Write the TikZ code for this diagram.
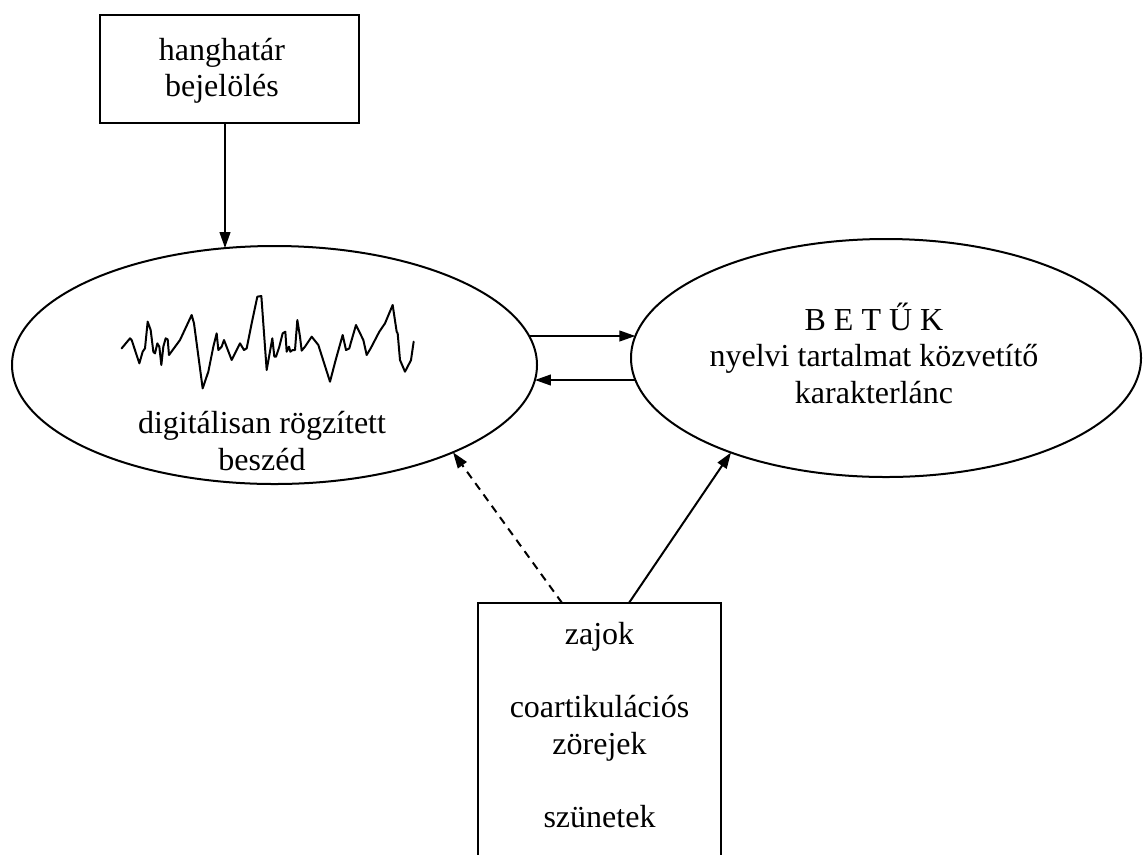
\documentclass[tikz,border=0pt]{standalone}
\usepackage{fontspec}
\setmainfont{Liberation Serif}
\usetikzlibrary{shapes.geometric,arrows.meta,calc}
\newlength\pxu \setlength\pxu{0.75pt}
\begin{document}
\begin{tikzpicture}[x=0.75pt,y=-0.75pt,
  every node/.style={font=\fontsize{24pt}{27.4pt}\selectfont, inner sep=0pt, outer sep=0pt},
  box/.style={draw, line width=1.5pt, rectangle},
  oval/.style={draw, line width=1.5pt, ellipse},
  conn/.style={line width=1.5pt, -{Triangle[length=12pt,width=8pt]}},
  dashline/.style={dash pattern=on 6pt off 4.5pt},
  wave/.style={line width=1.5pt, line join=round, line cap=round}]
\useasboundingbox (0,0) rectangle (1144,854);
\clip (0,0) rectangle (1144,854);
% boxes and ovals
\node[box, minimum width=259\pxu, minimum height=108\pxu] (T) at (229.5,69) {};
\node[align=center] (Ttext) at (222,71) {hanghatár\\bejelölés};
\node[oval, minimum width=525\pxu, minimum height=238\pxu] (L) at (274.5,365) {};
\node[align=center] (Ltext) at (262,441) {digitálisan rögzített\\beszéd};
\node[oval, minimum width=510\pxu, minimum height=238\pxu] (R) at (886,358) {};
\node[align=center] (Rtext) at (874,353) {B E T Ű K\\nyelvi tartalmat közvetítő\\karakterlánc};
\node[box, anchor=north, minimum width=243\pxu, minimum height=300\pxu] (B) at (599.5,603) {};
\node[align=center] (Btext) at (599.5,725) {zajok\\[27.4pt]coartikulációs\\zörejek\\[27.4pt]szünetek};
% waveform
\begin{scope}[shift={(100,280)}, x=0.25pt, y=-0.25pt]
\draw[wave] (65,205) -- (90,175) -- (95,180) -- (118,250) -- (128,215) -- (135,205) -- (143,125) -- (152,150) -- (160,215) -- (165,220) -- (172,190) -- (178,200) -- (184,255) -- (190,200) -- (197,175) -- (203,178) -- (207,225) -- (240,180) -- (275,105) -- (282,130) -- (308,325) -- (325,275) -- (340,200) -- (350,160) -- (355,210) -- (365,200) -- (372,180) -- (395,240) -- (420,190) -- (432,210) -- (440,205) -- (455,130) -- (472,50) -- (484,48) -- (500,270) -- (517,175) -- (523,230) -- (528,230) -- (538,200) -- (548,160) -- (556,155) -- (560,215) -- (567,200) -- (571,215) -- (578,210) -- (585,210) -- (592,120) -- (600,170) -- (605,212) -- (615,200) -- (635,170) -- (655,195) -- (690,305) -- (707,240) -- (728,165) -- (738,210) -- (748,205) -- (752,190) -- (768,135) -- (790,180) -- (800,225) -- (812,205) -- (838,155) -- (855,130) -- (878,75) -- (890,155) -- (893,160) -- (900,240) -- (915,275) -- (928,250) -- (933,240) -- (941,185);
\end{scope}
% points on the oval borders
\coordinate (Ltop) at ($(L.center)+(-49.5,-116.9)$);
\coordinate (Lout) at ($(L.center)+(254.6,-29)$);
\coordinate (Lin) at ($(L.center)+(260.4,15)$);
\coordinate (Lbot) at ($(L.center)+(178.5,87.3)$);
\coordinate (Rin) at ($(R.center)+(-250.6,-22)$);
\coordinate (Rout) at ($(R.center)+(-250.6,22)$);
\coordinate (Rbot) at ($(R.center)+(-155,94.5)$);
% connectors
\draw[conn] (T.south -| Ltop) -- (Ltop);
\draw[conn] (Lout) -- (Rin);
\draw[conn] (Rout) -- (Lin);
\draw[conn, dashline] ($(B.north west)!0.346!(B.north east)$) -- (Lbot);
\draw[conn] ($(B.north west)!0.621!(B.north east)$) -- (Rbot);
\end{tikzpicture}
\end{document}
